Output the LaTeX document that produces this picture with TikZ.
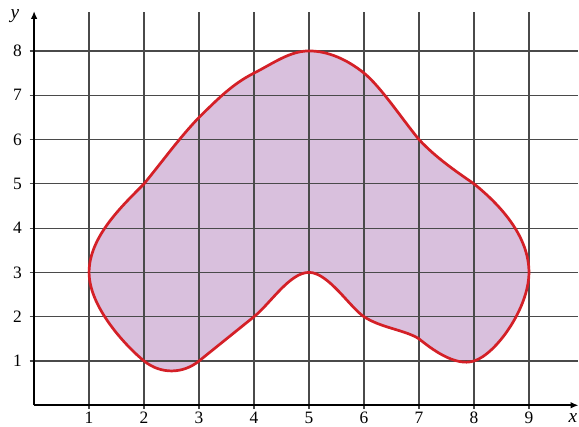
\documentclass[tikz,border=0pt]{standalone}
\usepackage{fontspec}
\setmainfont{Liberation Serif}
\usetikzlibrary{arrows.meta}
\definecolor{shapefill}{HTML}{D9C0DD}
\definecolor{shapeline}{HTML}{D42027}
\definecolor{gridgray}{HTML}{4A4A4A}
\newcommand{\blobpath}{(1,3) .. controls (1,3.8) and (1.6,4.5) .. (2,5)
  .. controls (2.33,5.5) and (2.65,6.05) .. (3,6.5)
  .. controls (3.33,6.9) and (3.6,7.25) .. (4,7.5)
  .. controls (4.35,7.72) and (4.65,8) .. (5,8)
  .. controls (5.35,8) and (5.7,7.8) .. (6,7.5)
  .. controls (6.3,7.2) and (6.7,6.45) .. (7,6)
  .. controls (7.3,5.6) and (7.65,5.3) .. (8,5)
  .. controls (8.5,4.5) and (9,3.8) .. (9,3)
  .. controls (9,2.2) and (8.4,1.15) .. (8,1)
  .. controls (7.65,0.86) and (7.2,1.3) .. (7,1.5)
  .. controls (6.75,1.7) and (6.3,1.75) .. (6,2)
  .. controls (5.75,2.2) and (5.35,3) .. (5,3)
  .. controls (4.65,3) and (4.3,2.3) .. (4,2)
  .. controls (3.7,1.7) and (3.3,1.3) .. (3,1)
  .. controls (2.7,0.7) and (2.3,0.7) .. (2,1)
  .. controls (1.7,1.3) and (1,2.2) .. (1,3) -- cycle}

\begin{document}
\begin{tikzpicture}[x=1cm,y=0.8055cm,font=\fontsize{9}{11}\selectfont,
  gridline/.style={gridgray,line width=0.6pt},
  axisline/.style={black,line width=0.8pt,-{Latex[length=4pt,width=3.4pt]}}]
  \useasboundingbox (-0.62,-0.475) rectangle (9.91,9.15);
  % shaded region
  \fill[shapefill] \blobpath;
  % grid
  \foreach \i in {1,...,9} \draw[gridline] (\i,-0.08) -- (\i,8.88);
  \foreach \j in {1,...,8} \draw[gridline] (-0.08,\j) -- (9.9,\j);
  % outline
  \draw[shapeline,line width=1.4pt] \blobpath;
  % axes
  \coordinate (O) at (0,0);
  \coordinate (xend) at (9.9,0);
  \coordinate (yend) at (0,8.9);
  \draw[axisline] (O) -- (xend);
  \draw[axisline] (O) -- (yend);
  \foreach \i in {1,...,9} \node (xt\i) at (\i,-0.29) {\i};
  \foreach \j in {1,...,8} \node (yt\j) at (-0.3,\j) {\j};
  \node[font=\fontsize{10}{12}\selectfont\itshape] (xlab) at (9.8,-0.28) {x};
  \node[font=\fontsize{10}{12}\selectfont\itshape] (ylab) at (-0.35,8.78) {y};
\end{tikzpicture}
\end{document}
